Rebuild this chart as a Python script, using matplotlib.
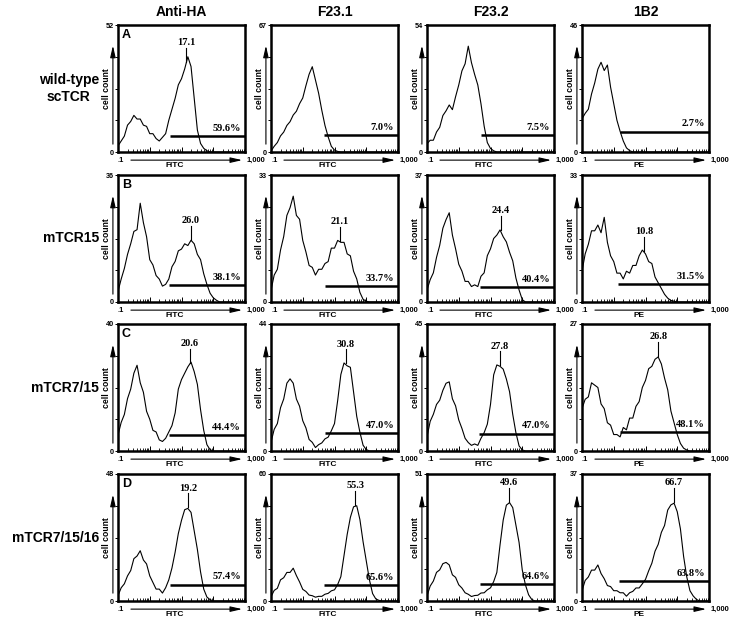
"""
Flow cytometry histograms: scTCR variants stained with four antibodies.
"""

import numpy as np
import matplotlib
matplotlib.use("Agg")
import matplotlib.pyplot as plt
import matplotlib.transforms as mtransforms

plt.rcParams['font.family'] = ['Liberation Sans', 'DejaVu Sans']
SERIF = ['Liberation Serif', 'DejaVu Serif']

# Labels
COLUMNS = ["Anti-HA", "F23.1", "F23.2", "1B2"]
ROWS = ["wild-type\nscTCR", "mTCR15", "mTCR7/15", "mTCR7/15/16"]
PANEL_LETTERS = ["A", "B", "C", "D"]
X_NAMES = ["FITC", "FITC", "FITC", "PE"]

# Channel positions (log10 of fluorescence), .1 to 1,000
LOG_CH = [-1.0, -0.9, -0.8, -0.7, -0.6, -0.5, -0.4, -0.3, -0.2, -0.1,
          0.0, 0.1, 0.2, 0.3, 0.4, 0.5, 0.6, 0.7, 0.8, 0.9,
          1.0, 1.1, 1.2, 1.3, 1.4, 1.5, 1.6, 1.7, 1.8, 1.9,
          2.0, 2.1, 2.2, 2.3, 2.4, 2.5, 2.6, 2.7, 2.8, 2.9, 3.0]

# y axis maximum per panel (row by row)
Y_MAX = [[52, 67, 54, 46],
         [36, 33, 37, 33],
         [40, 44, 45, 27],
         [48, 60, 51, 37]]

# Cell counts per channel, one list per column
WT_COUNTS = [
    [2.5, 4.5, 6.5, 11, 12.5, 15, 13.5, 13.5, 11, 10.5,
     7.5, 7.5, 5.5, 4.5, 6, 7.5, 13, 17.5, 22, 27.5,
     30, 34, 39, 35, 22, 9, 3.5, 1.5, 0.5, 0,
     0, 0, 0, 0, 0, 0, 0, 0, 0, 0, 0],
    [0.5, 3, 5, 8.5, 10.5, 14, 16, 19.5, 21.5, 25.5,
     28.5, 35, 41, 45, 38, 31, 22, 14, 8, 3,
     1, 0.3, 0, 0, 0, 0, 0, 0, 0, 0,
     0, 0, 0, 0, 0, 0, 0, 0, 0, 0, 0],
    [3.5, 5, 5, 8.5, 10.5, 15.5, 17.5, 20, 18, 23.5,
     28.5, 34.5, 37.5, 45, 38, 33, 28.5, 20.5, 11, 4,
     1.5, 0.5, 0, 0, 0, 0, 0, 0, 0, 0,
     0, 0, 0, 0, 0, 0, 0, 0, 0, 0, 0],
    [12, 14, 15.5, 21, 25, 30, 32.5, 29.5, 31.5, 23.5,
     17.5, 11.5, 7.5, 4, 1.5, 0.5, 0, 0, 0, 0,
     0, 0, 0, 0, 0, 0, 0, 0, 0, 0,
     0, 0, 0, 0, 0, 0, 0, 0, 0, 0, 0],
]
M15_COUNTS = [
    [3, 6.5, 9.5, 13.5, 16.5, 20, 20.5, 28, 22.5, 18.5,
     12, 10.5, 7.5, 6.5, 4.5, 5, 6.5, 10, 11.5, 14.5,
     15, 16.5, 16, 17.5, 16.5, 13.5, 12, 8, 5, 2.5,
     1.2, 0.5, 0, 0, 0, 0, 0, 0, 0, 0, 0],
    [3, 7, 8.5, 13.5, 17, 22.5, 24.5, 27.5, 22.5, 21.5,
     16, 13, 9.5, 9, 7, 8.5, 8.5, 10, 10.5, 14,
     14, 16, 15.5, 15.5, 12.5, 12, 8, 6, 2.5, 0.7,
     0.2, 0, 0, 0, 0, 0, 0, 0, 0, 0, 0],
    [3.5, 6.5, 8.5, 13, 16.5, 21.5, 24, 26, 19.5, 15.5,
     11, 9, 6, 6, 4.5, 5, 4.5, 7.5, 8.5, 13.5,
     15.5, 18.5, 19.5, 21, 19, 17.5, 14.5, 12, 7, 3.5,
     0.7, 0, 0, 0, 0, 0, 0, 0, 0, 0, 0],
    [8, 12.5, 15, 18.5, 18.5, 20, 18, 22, 15.5, 12,
     10.5, 7.5, 7.5, 6, 8, 7.5, 9.5, 9.5, 12, 13.5,
     12.5, 10.5, 10, 6.5, 5, 3.5, 2, 1, 0.4, 0.2,
     0, 0, 0, 0, 0, 0, 0, 0, 0, 0, 0],
]
M715_COUNTS = [
    [5, 9, 11.5, 16.5, 19.5, 24.5, 27, 21.5, 18.5, 12.5,
     10, 6.5, 6, 3.5, 3, 4, 6, 8, 12, 19.5,
     22.5, 24.5, 26.5, 28, 25, 21, 13, 6.5, 2, 0.4,
     0, 0, 0, 0, 0, 0, 0, 0, 0, 0, 0],
    [3, 7.5, 9.5, 15, 18, 23.5, 25, 23.5, 18, 15.5,
     10.5, 8, 4, 3, 1.2, 2.2, 2.8, 4.2, 4.8, 7,
     9.5, 17.5, 26.5, 30.5, 29.5, 29, 20.5, 12, 6.5, 2,
     0.5, 0, 0, 0, 0, 0, 0, 0, 0, 0, 0],
    [5, 10.5, 13, 16.5, 18, 21.5, 24, 24.5, 18.5, 16,
     11, 8, 4.5, 3, 2, 2.5, 2, 4.5, 6.5, 9.5,
     16.5, 27, 30.5, 30, 29, 25.5, 21, 13, 6.5, 1.8,
     0.4, 0, 0, 0, 0, 0, 0, 0, 0, 0, 0],
    [9, 11, 11.5, 14.5, 14, 13.5, 10, 9, 6, 5.5,
     3.5, 3.5, 3, 5, 4.5, 7, 7, 9.5, 10.5, 13.5,
     15, 17.5, 18, 19.5, 20, 18.5, 15.5, 13, 8.5, 6,
     3.5, 1.6, 0.6, 0.2, 0, 0, 0, 0, 0, 0, 0],
]
M71516_COUNTS = [
    [2, 5, 6.5, 9.5, 11.5, 16, 17, 19, 15.5, 14,
     9.5, 7, 4.5, 4.5, 3, 5, 8, 12.5, 18.5, 25.5,
     30.5, 34.5, 35, 33.5, 26.5, 19.5, 11, 4.5, 1.5, 0.5,
     0, 0, 0, 0, 0, 0, 0, 0, 0, 0, 0],
    [2, 5, 6, 10, 11, 13.5, 13.5, 15.5, 12, 9,
     5.5, 4.5, 2.8, 2.5, 1.8, 2.2, 2.2, 3.2, 3.6, 4.8,
     5.3, 7.8, 11.5, 21.5, 31.5, 39.5, 44.5, 45, 38.5, 28,
     19, 10, 3.5, 1, 0.3, 0, 0, 0, 0, 0, 0],
    [2, 6, 8, 11.5, 12.5, 15, 15.5, 14.5, 10.5, 9.5,
     6.5, 5.2, 3.3, 2.7, 1.8, 2.2, 2.3, 3.2, 3.3, 4.5,
     5.3, 7.8, 11.5, 22.5, 32.5, 38.5, 39.5, 37.5, 30.5, 23.5,
     12.5, 6.5, 2.5, 0.6, 0, 0, 0, 0, 0, 0, 0],
    [3, 6, 7, 9, 9, 10.5, 8, 6.5, 4.5, 4.2,
     3, 3, 2.4, 2.4, 1.4, 2.4, 2.8, 3.8, 3.8, 5,
     6.3, 8.8, 11, 14.5, 16.5, 20, 22, 26.5, 28, 28.5,
     26, 21, 13, 7, 3, 1.5, 0.5, 0, 0, 0, 0],
]
COUNTS = [WT_COUNTS, M15_COUNTS, M715_COUNTS, M71516_COUNTS]

# Mean fluorescence labels and where they point (log10 channel)
PEAK_TEXT = [["17.1", None, None, None],
             ["26.0", "21.1", "24.4", "10.8"],
             ["20.6", "30.8", "27.8", "26.8"],
             ["19.2", "55.3", "49.6", "66.7"]]
PEAK_LOG = [[1.15, None, None, None],
            [1.286, 1.176, 1.316, 0.947],
            [1.263, 1.356, 1.306, 1.40],
            [1.20, 1.65, 1.58, 1.89]]

# Positive gate: start (log10 channel), bar level (counts) and percentage
GATE_START = [[0.63, 0.67, 0.69, 0.19],
              [0.61, 0.707, 0.684, 0.149],
              [0.61, 0.71, 0.64, 0.21],
              [0.65, 0.67, 0.68, 0.18]]
GATE_LEVEL = [[6.4, 9.0, 7.3, 7.4],
              [4.9, 4.1, 4.4, 4.6],
              [5.0, 6.1, 6.2, 4.0],
              [6.2, 7.7, 6.8, 5.7]]
GATE_PCT = [["59.6%", "7.0%", "7.5%", "2.7%"],
            ["38.1%", "33.7%", "40.4%", "31.5%"],
            ["44.4%", "47.0%", "47.0%", "48.1%"],
            ["57.4%", "65.6%", "64.6%", "63.8%"]]

# Layout in pixels
FIG_W, FIG_H = 729, 629
COL_LEFT = [118, 271, 427, 582]
ROW_TOP = [25, 175, 324, 474]
PANEL_W, PANEL_H = 127, 127


def draw_panel(ax, r, c):
    x = 10 ** np.array(LOG_CH)
    counts = COUNTS[r][c]
    ymax = Y_MAX[r][c]

    ax.plot(x, counts, color="black", lw=0.8)
    ax.set_xscale("log")
    ax.set_xlim(0.1, 1000)
    ax.set_ylim(0, ymax)

    for s in ax.spines.values():
        s.set_linewidth(1.8)

    ax.tick_params(axis="x", which="major", direction="in", length=3.5, width=0.7,
                   labelbottom=False)
    ax.tick_params(axis="x", which="minor", direction="in", length=2.5, width=0.6,
                   labelbottom=False)
    ax.set_yticks([0, ymax / 4, ymax / 2, 3 * ymax / 4, ymax])
    ax.set_yticklabels(["0", "", "", "", str(ymax)])
    ax.tick_params(axis="y", direction="out", length=2, width=0.7, pad=1,
                   labelsize=5.2)
    for lab in ax.get_yticklabels():
        lab.set_fontweight("bold")

    # gate bar and percentage
    blend = mtransforms.blended_transform_factory(ax.transAxes, ax.transData)
    ax.plot([10 ** GATE_START[r][c], 1000], [GATE_LEVEL[r][c]] * 2,
            color="black", lw=1.8, solid_capstyle="butt")
    ax.text(0.97, GATE_LEVEL[r][c] + 0.025 * ymax, GATE_PCT[r][c], transform=blend,
            ha="right", va="bottom", fontsize=7.5, fontweight="bold", family=SERIF)

    # mean fluorescence label
    if PEAK_TEXT[r][c]:
        px = PEAK_LOG[r][c]
        py = np.interp(px, LOG_CH, counts)
        ax.plot([10 ** px] * 2, [py + 0.01 * ymax, py + 0.12 * ymax],
                color="black", lw=0.8)
        ax.text(10 ** px, py + 0.125 * ymax, PEAK_TEXT[r][c], ha="center",
                va="bottom", fontsize=7.5, fontweight="bold", family=SERIF)

    # axis decorations
    ax.annotate("", xy=(1.0, -0.064), xytext=(0.08, -0.064), xycoords="axes fraction",
                arrowprops=dict(arrowstyle="-|>,head_length=0.7,head_width=0.16",
                                color="black", lw=0.8), annotation_clip=False)
    ax.text(0.0, -0.064, ".1", transform=ax.transAxes, ha="left", va="center",
            fontsize=5.4, fontweight="bold")
    ax.text(1.01, -0.064, "1,000", transform=ax.transAxes, ha="left", va="center",
            fontsize=5.4, fontweight="bold")
    ax.text(0.45, -0.105, X_NAMES[c], transform=ax.transAxes, ha="center",
            va="center", fontsize=6, fontweight="bold")
    ax.annotate("", xy=(-0.04, 0.86), xytext=(-0.04, 0.04), xycoords="axes fraction",
                arrowprops=dict(arrowstyle="-|>,head_length=0.7,head_width=0.16",
                                color="black", lw=0.8), annotation_clip=False)
    ax.text(-0.09, 0.5, "cell count", transform=ax.transAxes, rotation=90,
            ha="center", va="center", fontsize=6.2, fontweight="bold")


def main():
    fig = plt.figure(figsize=(FIG_W / 100, FIG_H / 100), dpi=100)
    for r in range(4):
        for c in range(4):
            rect = [COL_LEFT[c] / FIG_W, 1 - (ROW_TOP[r] + PANEL_H) / FIG_H,
                    PANEL_W / FIG_W, PANEL_H / FIG_H]
            ax = fig.add_axes(rect)
            draw_panel(ax, r, c)
            if r == 0:
                ax.text(0.5, 1.1, COLUMNS[c], transform=ax.transAxes, ha="center",
                        va="center", fontsize=10, fontweight="bold")
            if c == 0:
                ax.text(0.03, 0.97, PANEL_LETTERS[r], transform=ax.transAxes,
                        ha="left", va="top", fontsize=9, fontweight="bold")
        yc = 1 - (ROW_TOP[r] + PANEL_H / 2) / FIG_H
        fig.text(99 / FIG_W, yc, ROWS[r], ha="right", va="center",
                 multialignment="center", fontsize=10, fontweight="bold")

    fig.savefig("out.png", dpi=100)


if __name__ == "__main__":
    main()
